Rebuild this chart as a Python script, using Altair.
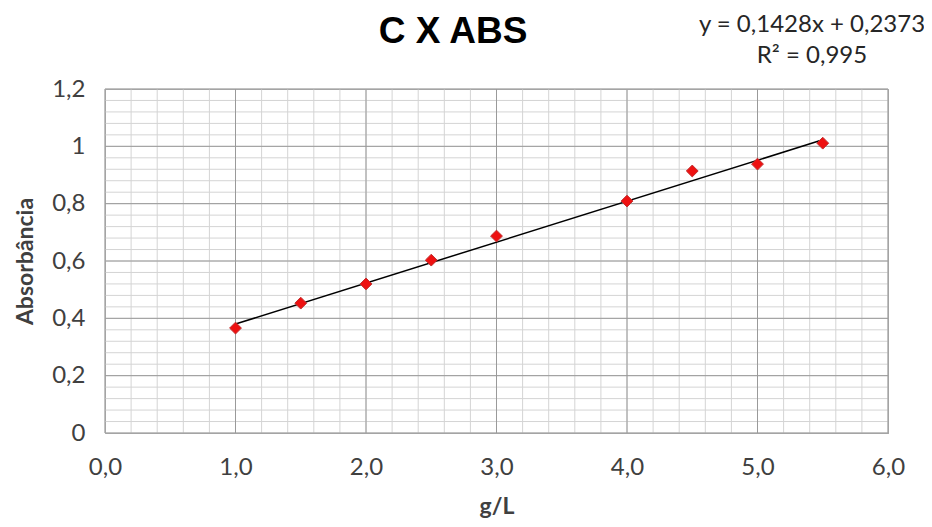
import altair as alt
import pandas as pd
import numpy as np

# data
conc = [1.0, 1.5, 2.0, 2.5, 3.0, 4.0, 4.5, 5.0, 5.5]
absorb = [0.366, 0.453, 0.520, 0.603, 0.687, 0.809, 0.914, 0.938, 1.011]
slope = 0.1428
intercept = 0.2373
x_ticks = [0, 1, 2, 3, 4, 5, 6]
y_ticks = [0, 0.2, 0.4, 0.6, 0.8, 1.0, 1.2]
x_minor = [round(v, 2) for v in np.arange(0, 6.0001, 0.2)]
y_minor = [round(v, 2) for v in np.arange(0, 1.2001, 0.04)]

FONT = "Lato"
W, H = 783, 344
LABEL_COLOR = "#404040"

pts = pd.DataFrame({"x": conc, "y": absorb})
trend = pd.DataFrame({"x": [conc[0], conc[-1]],
                      "y": [slope * conc[0] + intercept, slope * conc[-1] + intercept]})

xs = alt.Scale(domain=[0, 6], nice=False, zero=False)
ys = alt.Scale(domain=[0, 1.2], nice=False, zero=False)

xaxis = alt.Axis(values=x_ticks, grid=False, ticks=False, domain=False, labelFlush=False,
                 labelExpr="replace(format(datum.value, '.1f'), '.', ',')",
                 labelFont=FONT, labelFontSize=24, labelColor=LABEL_COLOR, labelPadding=22,
                 title="g/L", titleFont=FONT, titleFontSize=23, titleFontWeight="bold",
                 titleColor=LABEL_COLOR, titlePadding=16)
yaxis = alt.Axis(values=y_ticks, grid=False, ticks=False, domain=False, labelFlush=False,
                 labelExpr="replace(format(datum.value, '.1~f'), '.', ',')",
                 labelFont=FONT, labelFontSize=24, labelColor=LABEL_COLOR, labelPadding=20,
                 title="Absorbância", titleFont=FONT, titleFontSize=23, titleFontWeight="bold",
                 titleColor=LABEL_COLOR, titlePadding=14)

base_x = alt.X("x:Q", scale=xs, axis=xaxis)
base_y = alt.Y("y:Q", scale=ys, axis=yaxis)

vminor = alt.Chart(pd.DataFrame({"x": x_minor})).mark_rule(color="#d4d4d4", strokeWidth=1).encode(
    x=alt.X("x:Q", scale=xs, axis=xaxis))
hminor = alt.Chart(pd.DataFrame({"y": y_minor})).mark_rule(color="#d4d4d4", strokeWidth=1).encode(
    y=alt.Y("y:Q", scale=ys, axis=yaxis))
vmajor = alt.Chart(pd.DataFrame({"x": x_ticks})).mark_rule(color="#9a9a9a", strokeWidth=1).encode(
    x=alt.X("x:Q", scale=xs, axis=xaxis))
hmajor = alt.Chart(pd.DataFrame({"y": y_ticks})).mark_rule(color="#9a9a9a", strokeWidth=1).encode(
    y=alt.Y("y:Q", scale=ys, axis=yaxis))

line = alt.Chart(trend).mark_line(color="black", strokeWidth=1.5).encode(x=base_x, y=base_y)
points = alt.Chart(pts).mark_point(shape="diamond", filled=True, size=140, color="#ee1111",
                                   stroke="#c03030", strokeWidth=1, opacity=1).encode(x=base_x, y=base_y)

title = alt.Chart(pd.DataFrame({"t": ["C X ABS"]})).mark_text(
    font="Liberation Sans", fontSize=37, fontWeight="bold", color="black",
    align="center", baseline="alphabetic"
).encode(x=alt.value(348), y=alt.value(-46), text="t:N")
eq1 = alt.Chart(pd.DataFrame({"t": ["y = 0,1428x + 0,2373"]})).mark_text(
    font=FONT, fontSize=24, color="#262626", align="center", baseline="middle"
).encode(x=alt.value(707), y=alt.value(-64), text="t:N")
eq2 = alt.Chart(pd.DataFrame({"t": ["R² = 0,995"]})).mark_text(
    font=FONT, fontSize=24, color="#262626", align="center", baseline="middle"
).encode(x=alt.value(707), y=alt.value(-33), text="t:N")

chart = alt.layer(vminor, hminor, vmajor, hmajor, line, points, title, eq1, eq2).properties(
    width=W, height=H,
    autosize=alt.AutoSizeParams(type="none"),
    padding={"left": 97, "top": 81, "right": 36, "bottom": 86},
    background="white",
).configure_view(stroke="#8a8a8a", strokeWidth=1)

chart.save("out.html", embed_options={"renderer": "svg", "actions": False})
